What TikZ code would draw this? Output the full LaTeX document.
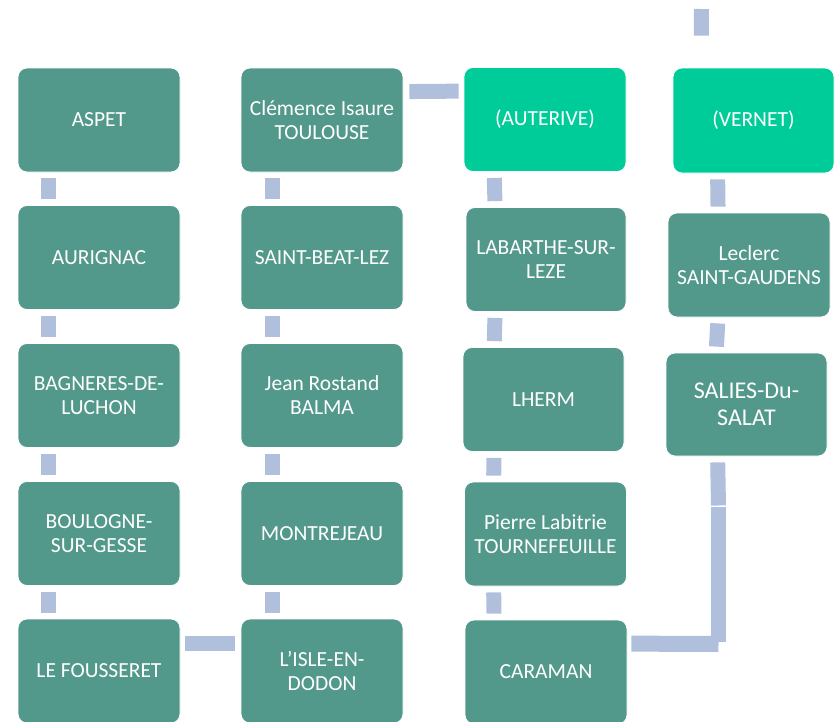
\documentclass[tikz,border=0pt]{standalone}
\usepackage{fontspec}
\setmainfont{Carlito}
\usepackage{tikz}

\definecolor{boxteal}{RGB}{82,153,140}
\definecolor{boxgreen}{RGB}{0,204,153}
\definecolor{linkblue}{RGB}{176,192,220}

\newcommand{\labelfont}{\fontsize{21.5}{24}\selectfont}

\tikzset{
    box/.style={rectangle, rounded corners=9pt, fill=boxteal, draw=white, line width=0.8pt,
        minimum width=162pt, minimum height=104pt, text=white, align=center, font=\labelfont},
    keybox/.style={box, fill=boxgreen},
    link/.style={draw=linkblue, line width=15pt},
}

\begin{document}
\begin{tikzpicture}[x=1pt, y=-1pt]
    \useasboundingbox (0,0) rectangle (836,721);
    \clip (0,0) rectangle (836,721);

    % Column 1
    \node[box] (ASPET) at (99,120) {ASPET};
    \node[box] (AURIGNAC) at (99,257.5) {AURIGNAC};
    \node[box] (LUCHON) at (99,395.5) {BAGNERES-DE-\\LUCHON};
    \node[box] (GESSE) at (99,533.5) {BOULOGNE-\\SUR-GESSE};
    \node[box] (FOUSSERET) at (99,671) {LE FOUSSERET};

    % Column 2
    \node[box] (TOULOUSE) at (322,120) {Clémence Isaure\\TOULOUSE};
    \node[box] (BEAT) at (322,257.5) {SAINT-BEAT-LEZ};
    \node[box] (BALMA) at (322,395.5) {Jean Rostand\\BALMA};
    \node[box] (MONTREJEAU) at (322,533.5) {MONTREJEAU};
    \node[box] (ISLE) at (322,671) {L’ISLE-EN-\\DODON};

    % Column 3
    \node[keybox] (AUTERIVE) at (545,119.5) {(AUTERIVE)};
    \node[box, minimum width=160pt] (LABARTHE) at (546,259.5) {LABARTHE-SUR-\\LEZE};
    \node[box, minimum width=161pt] (LHERM) at (543.5,399.5) {LHERM};
    \node[box] (TOURNEFEUILLE) at (545.5,534) {Pierre Labitrie\\TOURNEFEUILLE};
    \node[box] (CARAMAN) at (546,672) {CARAMAN};

    % Column 4
    \node[keybox, minimum width=161pt, minimum height=105pt] (VERNET) at (753.5,120.5) {(VERNET)};
    \node[box] (GAUDENS) at (749,265) {Leclerc\\SAINT-GAUDENS};
    \node[box, minimum width=161pt, minimum height=103pt, font=\fontsize{24}{27}\selectfont] (SALAT) at (746.5,404.5) {SALIES-Du-\\SALAT};

    \coordinate (TOP) at (701.5,9);
    \coordinate (SEAM) at (718.5,506);
    \coordinate (BEND) at (718.5,644);

    % Connections
    \draw[link, shorten <=6pt, shorten >=6pt] ([xshift=31pt]ASPET.south west) -- ([xshift=31pt]AURIGNAC.north west);
    \draw[link, shorten <=6pt, shorten >=6pt] ([xshift=31pt]AURIGNAC.south west) -- ([xshift=31pt]LUCHON.north west);
    \draw[link, shorten <=6pt, shorten >=6pt] ([xshift=31pt]LUCHON.south west) -- ([xshift=31pt]GESSE.north west);
    \draw[link, shorten <=6pt, shorten >=6pt] ([xshift=31pt]GESSE.south west) -- ([xshift=31pt]FOUSSERET.north west);

    \draw[link, shorten <=5pt, shorten >=6pt] ([yshift=-24.5pt]FOUSSERET.north east) -- ([yshift=-24.5pt]ISLE.north west);

    \draw[link, shorten <=6pt, shorten >=6pt] ([xshift=31.5pt]ISLE.north west) -- ([xshift=31.5pt]MONTREJEAU.south west);
    \draw[link, shorten <=6pt, shorten >=6pt] ([xshift=31.5pt]MONTREJEAU.north west) -- ([xshift=31.5pt]BALMA.south west);
    \draw[link, shorten <=6pt, shorten >=6pt] ([xshift=31.5pt]BALMA.north west) -- ([xshift=31.5pt]BEAT.south west);
    \draw[link, shorten <=6pt, shorten >=6pt] ([xshift=31.5pt]BEAT.north west) -- ([xshift=31.5pt]TOULOUSE.south west);

    \draw[link, shorten <=6pt, shorten >=5pt] ([yshift=-24pt]TOULOUSE.north east) -- ([yshift=-24pt]AUTERIVE.north west);

    \draw[link, shorten <=6pt, shorten >=6pt] ([xshift=30.5pt]AUTERIVE.south west) -- ([xshift=29.5pt]LABARTHE.north west);
    \draw[link, shorten <=6pt, shorten >=6pt] ([xshift=29.5pt]LABARTHE.south west) -- ([xshift=31.5pt]LHERM.north west);
    \draw[link, shorten <=6pt, shorten >=6pt] ([xshift=31.5pt]LHERM.south west) -- ([xshift=29.5pt]TOURNEFEUILLE.north west);
    \draw[link, shorten <=6pt, shorten >=6pt] ([xshift=29.5pt]TOURNEFEUILLE.south west) -- ([xshift=29.5pt]CARAMAN.north west);

    \draw[link, line width=16pt, shorten <=4pt] ([yshift=-24pt]CARAMAN.north east) -- (BEND);
    \draw[link, shorten >=0.5pt] ([yshift=2pt]BEND) -- (SEAM);
    \draw[link, shorten <=6pt, shorten >=0.5pt] ([xshift=52pt]SALAT.south west) -- (SEAM);

    \draw[link, shorten <=6pt, shorten >=6pt] ([xshift=50.5pt]SALAT.north west) -- ([xshift=50.5pt]GAUDENS.south west);
    \draw[link, shorten <=6pt, shorten >=6pt] ([xshift=50.5pt]GAUDENS.north west) -- ([xshift=45pt]VERNET.south west);
    \draw[link, shorten <=32pt] ([xshift=28.5pt]VERNET.north west) -- (TOP);
\end{tikzpicture}
\end{document}
